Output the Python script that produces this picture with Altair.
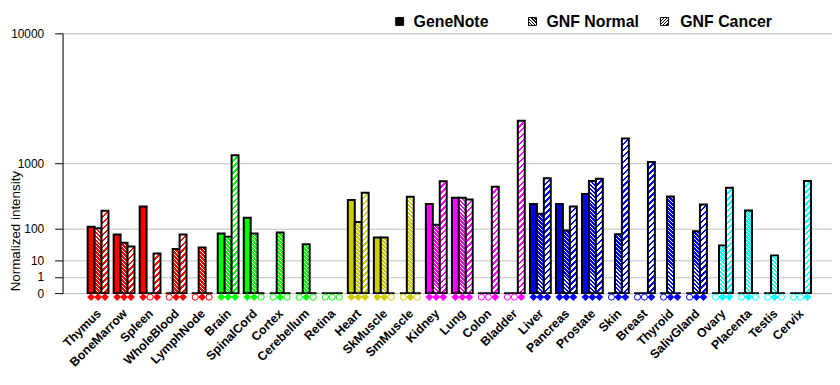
import altair as alt
import pandas as pd

# ---------------- data ----------------
tissues = ["Thymus", "BoneMarrow", "Spleen", "WholeBlood", "LymphNode",
           "Brain", "SpinalCord", "Cortex", "Cerebellum", "Retina",
           "Heart", "SkMuscle", "SmMuscle",
           "Kidney", "Lung", "Colon", "Bladder",
           "Liver", "Pancreas", "Prostate", "Skin", "Breast", "Thyroid", "SalivGland",
           "Ovary", "Placenta", "Testis", "Cervix"]
tissue_colors = (["#FF0000"] * 5 + ["#00FF00"] * 5 + ["#CCCC00"] * 3 +
                 ["#FF00FF"] * 4 + ["#0000FF"] * 7 + ["#00FFFF"] * 4)
sources = ["GeneNote", "GNF Normal", "GNF Cancer"]

genenote = [108, 71, 260, 0, 0, 75, 164, 0, 0, 0, 330, 60, 0, 287, 357, 0, 0,
            287, 287, 408, 0, 0, 0, 0, 0, 0, 0, 0]
gnf_normal = [100, 43, 0, 27.5, 31, 63, 75, 80, 39, 0, 135, 60, 370, 119, 357, 0, 0,
              194, 89, 615, 72, 0, 375, 85, 36, 222, 16.5, 0]
gnf_cancer = [220, 33, 19.5, 71, 0, 1220, 0, 0, 0, 0, 425, 0, 0, 610, 338, 515, 2560,
              665, 260, 655, 1785, 1030, 0, 280, 500, 0, 0, 615]

genenote_call = [1, 1, 1, 0, 0, 1, 1, 0, 0, 0, 1, 1, 0, 1, 1, 0, 0, 1, 1, 1, 0, 0, 0, 0, 0, 0, 0, 0]
gnf_normal_call = [1, 1, 0, 1, 1, 1, 1, 1, 1, 0, 1, 1, 1, 1, 1, 0, 0, 1, 1, 1, 1, 0, 1, 1, 1, 1, 1, 0]
gnf_cancer_call = [1, 1, 1, 1, 0, 1, 0, 0, 0, 0, 1, 0, 0, 1, 1, 1, 1, 1, 1, 1, 1, 1, 1, 1, 1, 0, 0, 1]

y_ticks = [0, 1, 10, 100, 1000, 10000]

rows = []
for i, t in enumerate(tissues):
    for s, vals, calls in zip(sources, [genenote, gnf_normal, gnf_cancer],
                              [genenote_call, gnf_normal_call, gnf_cancer_call]):
        rows.append(dict(tissue=t, source=s, value=vals[i],
                         color=tissue_colors[i], present=calls[i]))
df = pd.DataFrame(rows)

# ---------------- hatch fills (linear gradients with hard stops) ----------------
SPAN = 300.0


def stops_expr(c_a, c_b, period, frac):
    p = period / SPAN
    parts = []
    k = 0
    while k * p < 1:
        o0 = k * p
        o1 = min(1.0, o0 + frac * p)
        o2 = min(1.0, (k + 1) * p)
        parts += [f"{{offset:{o0:.5f},color:{c_a}}}", f"{{offset:{o1:.5f},color:{c_a}}}",
                  f"{{offset:{o1:.5f},color:{c_b}}}", f"{{offset:{o2:.5f},color:{c_b}}}"]
        k += 1
    return "[" + ",".join(parts) + "]"


def hatch_expr(c_a, c_b, period, frac, w, h, rising):
    a = f"({SPAN}/({w}*{w}+{h}*{h}))"
    if rising:
        vec = f"x1:0,y1:0,x2:{a}*{w},y2:{a}*{h}"
    else:
        vec = f"x1:0,y1:1,x2:{a}*{w},y2:1-{a}*{h}"
    return "{gradient:'linear'," + vec + ",stops:" + stops_expr(c_a, c_b, period, frac) + "}"


W = "bandwidth('xOffset')"
H = "(scale('y',0)-scale('y',datum.value))"
normal_fill = hatch_expr("'white'", "datum.color", 4, 0.35, W, H, rising=False)
cancer_fill = hatch_expr("datum.color", "'white'", 6, 0.42, W, H, rising=True)

# ---------------- encodings ----------------
x_enc = alt.X("tissue:N",
              scale=alt.Scale(domain=tissues, paddingInner=0.2, paddingOuter=0.887, align=0.544),
              axis=alt.Axis(title=None, labelAngle=-45, labelAlign="right", labelBaseline="middle",
                            labelFontWeight="bold", labelFontSize=12.5, labelColor="black",
                            ticks=False, tickSize=0, domain=False, grid=False, labelPadding=18,
                            labelOffset=1))
xoff_enc = alt.XOffset("source:N", scale=alt.Scale(domain=sources, paddingInner=0, paddingOuter=0))
y_enc = alt.Y("value:Q", stack=None,
              scale=alt.Scale(type="pow", exponent=0.30103, domain=[0, 10000], nice=False),
              axis=alt.Axis(values=y_ticks, title="Normalized intensity",
                            titleFontSize=13.5, titleFontWeight="normal", titleColor="black",
                            titleX=-47.5, titleY=199, titleAngle=270, titleAlign="center",
                            titleBaseline="middle",
                            labelFontSize=12, labelColor="black", labelPadding=11,
                            labelFlush=False, labelOverlap=False,
                            labelExpr="datum.value == 1000 ? '1000\u00a0\u00a0' : '' + datum.value",
                            tickSize=8, tickColor="black", tickWidth=1,
                            domainColor="black", domainWidth=1,
                            gridColor="#C0C0C0", gridWidth=1, gridOpacity=1))

base = alt.Chart(df)

gn_layer = base.transform_filter("datum.source === 'GeneNote'").mark_bar(
    stroke="black", strokeWidth=2).encode(
    x=x_enc, xOffset=xoff_enc, y=y_enc, fill=alt.Fill("color:N", scale=None))

normal_layer = base.transform_filter("datum.source === 'GNF Normal'").mark_bar(
    stroke="black", strokeWidth=2, fill={"expr": normal_fill}).encode(
    x=x_enc, xOffset=xoff_enc, y=y_enc)

cancer_layer = base.transform_filter("datum.source === 'GNF Cancer'").mark_bar(
    stroke="black", strokeWidth=2, fill={"expr": cancer_fill}).encode(
    x=x_enc, xOffset=xoff_enc, y=y_enc)

# call markers sit just under the zero line
present_layer = base.transform_filter("datum.present == 1").transform_calculate(value="0").mark_point(
    shape="diamond", filled=True, size=64, yOffset=4, opacity=1).encode(
    x=x_enc, xOffset=xoff_enc, y=y_enc, fill=alt.Fill("color:N", scale=None))

absent_layer = base.transform_filter("datum.present == 0").transform_calculate(value="0").mark_point(
    shape="circle", filled=False, size=38, strokeWidth=1, yOffset=4, opacity=1).encode(
    x=x_enc, xOffset=xoff_enc, y=y_enc, stroke=alt.Stroke("color:N", scale=None))

# ---------------- legend (drawn by hand) ----------------
legend_square_x = [336, 470, 603]
legend_text_x = [354, 488, 623]
legend_fills = [
    "black",
    {"expr": hatch_expr("'black'", "'white'", 3.2, 0.45, "8", "8", rising=False)},
    {"expr": hatch_expr("'black'", "'white'", 3.2, 0.45, "8", "8", rising=True)},
]
legend_layers = []
for lbl, sx, tx, f in zip(sources, legend_square_x, legend_text_x, legend_fills):
    ldf = pd.DataFrame({"label": [lbl]})
    legend_layers.append(
        alt.Chart(ldf).mark_rect(fill=f, stroke="black", strokeWidth=1).encode(
            x=alt.value(sx), x2=alt.value(sx + 8), y=alt.value(-16), y2=alt.value(-8)))
    legend_layers.append(
        alt.Chart(ldf).mark_text(align="left", baseline="middle", fontSize=16,
                                 fontWeight="bold", color="black").encode(
            x=alt.value(tx), y=alt.value(-11), text="label:N"))

chart = alt.layer(gn_layer, normal_layer, cancer_layer, present_layer, absent_layer,
                  *legend_layers).properties(
    width=776, height=262,
    autosize=alt.AutoSizeParams(type="none"),
    padding={"left": 55, "top": 24, "right": 0, "bottom": 80},
).configure_view(stroke=None).configure(font="Liberation Sans")

chart.save("out.html", embed_options={"renderer": "svg", "actions": False})
